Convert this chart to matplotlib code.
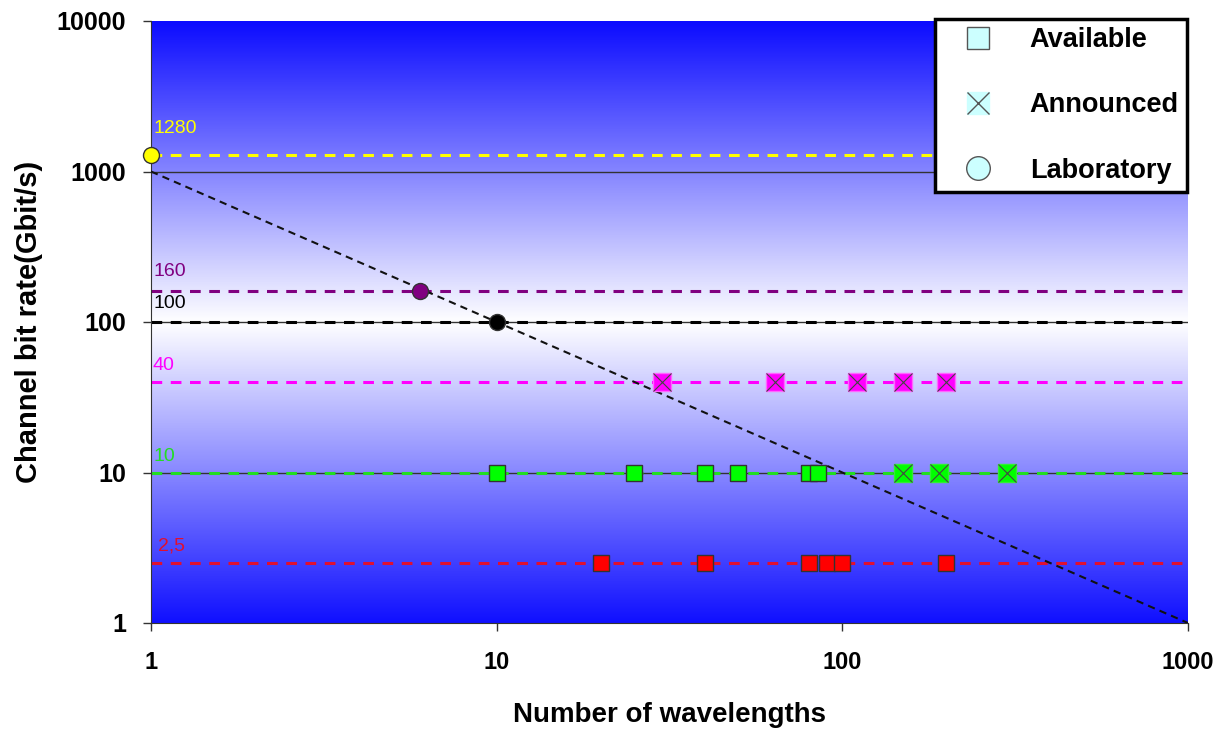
import numpy as np
import matplotlib.pyplot as plt
from matplotlib.lines import Line2D
from matplotlib.legend_handler import HandlerTuple
from matplotlib.colors import LinearSegmentedColormap

# data
rates = [1280, 160, 100, 40, 10, 2.5]
rate_labels = ['1280', '160', '100', '40', '10', '2,5']
rate_colors = ['#FFFF00', '#800080', '#000000', '#FF00FF', '#22DD22', '#E01030']

avail_10_x = [10, 25, 40, 50, 80, 85]
avail_25_x = [20, 40, 80, 90, 100, 200]
announced_40_x = [30, 64, 110, 150, 200]
announced_10_x = [150, 190, 300]
lab_x = [1, 6, 10]
lab_y = [1280, 160, 100]
lab_colors = ['#FFFF00', '#800080', '#000000']

limit_x = [1, 1000]
limit_y = [1000, 1]

x_ticks = [1, 10, 100, 1000]
y_ticks = [1, 10, 100, 1000, 10000]

# label offsets above each line (points)
label_dx = [2, 2, 2, 1, 2, 5]
label_dy = [19, 14, 13, 11.5, 11.5, 12]

plt.rcParams['font.family'] = ['Liberation Sans', 'DejaVu Sans']

fig = plt.figure(figsize=(12.28, 7.31), dpi=100)
ax = fig.add_axes([151/1228, 1 - 623/731, (1188-151)/1228, (623-21)/731])
ax.set_xscale('log')
ax.set_yscale('log')
ax.set_xlim(1, 1000)
ax.set_ylim(1, 10000)

# background gradient blue -> white -> blue
cmap = LinearSegmentedColormap.from_list('bg', [(0, '#0C0CFF'), (0.5, '#FFFFFF'), (1, '#1010FF')])
grad = np.linspace(0, 1, 256).reshape(-1, 1)
ax.imshow(grad, cmap=cmap, aspect='auto', extent=[0, 1, 0, 1],
          transform=ax.transAxes, zorder=0)

# horizontal grid lines
for g in [10, 100, 1000]:
    ax.axhline(g, color='#333333', lw=1, zorder=1)

# rate lines and labels
for r, lbl, c, dx, dy in zip(rates, rate_labels, rate_colors, label_dx, label_dy):
    ax.axhline(r, color=c, lw=2.2, ls=(0, (3.5, 2.8)), zorder=2)
    ax.annotate(lbl, xy=(1, r), xytext=(dx, dy), textcoords='offset points',
                color=c, fontsize=14, va='center', ha='left')

# diagonal
ax.plot(limit_x, limit_y, color='#111111', lw=1.5, ls=(0, (3.5, 2.5)), zorder=3)

# available squares
ax.plot(avail_10_x, [10]*len(avail_10_x), ls='none', marker='s', ms=11,
        mfc='#00FF00', mec='#333333', mew=1, zorder=4)
ax.plot(avail_25_x, [2.5]*len(avail_25_x), ls='none', marker='s', ms=11,
        mfc='#FF0000', mec='#333333', mew=1, zorder=4)

# announced squares with X
for xs, y, c, ec in [(announced_40_x, 40, '#FF00FF', '#FF66FF'), (announced_10_x, 10, '#00FF00', '#33EE33')]:
    ax.plot(xs, [y]*len(xs), ls='none', marker='s', ms=13.5, mfc=c, mec=ec, mew=1, zorder=4)
    ax.plot(xs, [y]*len(xs), ls='none', marker='x', ms=13.5, mec='#444444', mew=0.8, zorder=5)

# laboratory circles
for x, y, c in zip(lab_x, lab_y, lab_colors):
    ax.plot([x], [y], ls='none', marker='o', ms=11.5, mfc=c, mec='#333333', mew=1,
            zorder=6, clip_on=False)

ax.set_xticks(x_ticks)
ax.set_xticklabels([str(t) for t in x_ticks])
ax.set_yticks(y_ticks)
ax.set_yticklabels([str(t) for t in y_ticks])
ax.minorticks_off()
ax.tick_params(axis='both', length=6, width=1, color='#333333')
ax.tick_params(axis='x', pad=14, labelsize=17)
ax.tick_params(axis='y', pad=12, labelsize=18)
for t in ax.get_xticklabels() + ax.get_yticklabels():
    t.set_fontweight('bold')
for s in ['top', 'right']:
    ax.spines[s].set_visible(False)
for s in ['left', 'bottom']:
    ax.spines[s].set_color('#333333')

ax.set_xlabel('Number of wavelengths', fontsize=20, fontweight='bold', labelpad=20)
ax.set_ylabel('Channel bit rate(Gbit/s)', fontsize=21, fontweight='bold', labelpad=10)

# legend
h_av = Line2D([], [], ls='none', marker='s', ms=16, mfc='#CCFFFF', mec='#555555', mew=1)
h_an_sq = Line2D([], [], ls='none', marker='s', ms=16, mfc='#CCFFFF', mec='#CCFFFF', mew=1)
h_an_x = Line2D([], [], ls='none', marker='x', ms=16, mec='#555555', mew=1)
h_lab = Line2D([], [], ls='none', marker='o', ms=17, mfc='#CCFFFF', mec='#555555', mew=1)
leg = fig.legend([h_av, (h_an_sq, h_an_x), h_lab], ['Available', 'Announced', 'Laboratory'],
                 handler_map={tuple: HandlerTuple(ndivide=1, pad=0)},
                 loc='upper left', bbox_to_anchor=(935/1228, 1 - 19/731),
                 fancybox=False, framealpha=1, edgecolor='black',
                 prop={'weight': 'bold', 'size': 19.5}, labelspacing=1.45,
                 handlelength=2.6, handletextpad=0.6, borderpad=0.3, borderaxespad=0)
leg.get_frame().set_linewidth(2.5)

fig.savefig('out.png', dpi=100)
